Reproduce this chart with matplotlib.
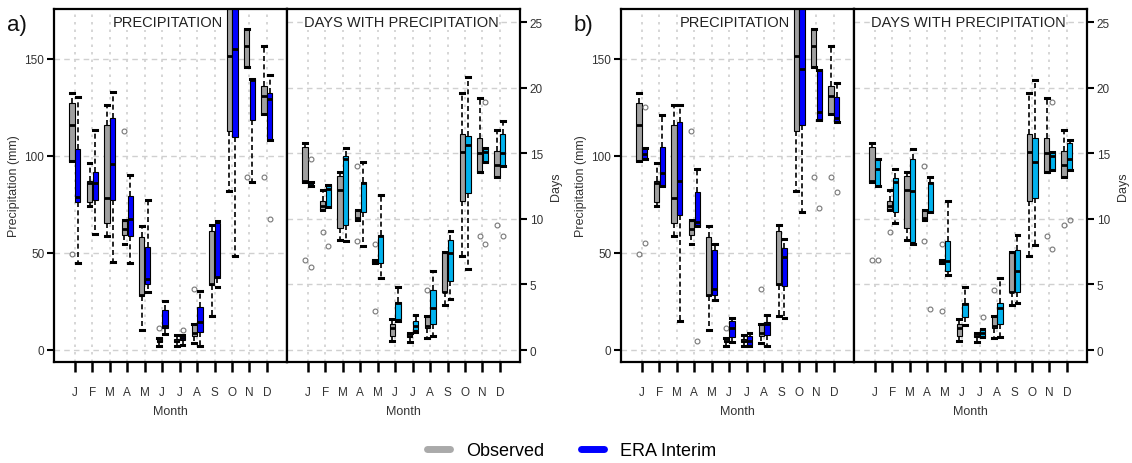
import numpy as np
import matplotlib
matplotlib.use("Agg")
import matplotlib.pyplot as plt
from matplotlib.lines import Line2D

plt.rcParams['font.family'] = ['Liberation Sans', 'DejaVu Sans']

months = ['J', 'F', 'M', 'A', 'M', 'J', 'J', 'A', 'S', 'O', 'N', 'D']

# rows: whisker low, q1, median, q3, whisker high
obs_prec = [[97.4, 97.4, 116, 127, 132.2], [74.2, 76, 86.1, 86.8, 96.2],
            [58.8, 65.3, 78.4, 116, 126], [54.5, 59.1, 62.2, 66.5, 67],
            [10.3, 27.8, 28.3, 57.9, 63.6], [2.1, 3.8, 4.5, 5.9, 6.3],
            [2.1, 3.8, 4.7, 5.5, 7.7], [3.3, 7.2, 8.5, 13.2, 13.5],
            [17.5, 33.4, 34, 61.4, 64.3], [81.7, 112.6, 151.2, 195, 230],
            [145.6, 145.6, 156.4, 165.3, 165.3], [121.5, 121.5, 130.6, 136.1, 156.4]]
obs_prec_out = [[49.3], [], [], [112.6], [], [11], [], [31.3], [], [], [88.9], [88.9]]

obs_days = [[12.8, 12.8, 12.85, 15.5, 15.8], [10.7, 10.7, 11.0, 11.4, 12.2],
            [8.4, 9.3, 12.2, 13.3, 13.6], [9.9, 9.9, 10.1, 10.7, 10.7],
            [6.6, 6.6, 6.8, 6.9, 6.9], [0.7, 1.1, 1.7, 2.0, 2.4],
            [0.6, 1.0, 1.1, 1.2, 1.3], [0.9, 1.65, 1.85, 2.6, 2.6],
            [3.4, 4.4, 4.45, 7.4, 7.5], [7.2, 11.4, 15.1, 16.5, 19.6],
            [13.6, 13.6, 15.0, 16.2, 19.2], [13.2, 13.2, 14.1, 15.2, 16.8]]
obs_days_out = [[6.9], [9.0], [], [14.0, 8.3], [8.1, 3.0], [], [], [4.6], [], [], [8.7], [9.5]]

era_a_prec = [[44.7, 76, 78.9, 103.5, 130], [59.6, 77.2, 86.1, 91.4, 113.3],
              [45, 77.2, 95.9, 119.6, 132.7], [44.7, 58.8, 67.2, 79.1, 90.2],
              [29.9, 33.9, 36.4, 52.8, 77.3], [8.1, 11.2, 12.4, 20.5, 25.3],
              [2.4, 5.2, 6.0, 6.9, 7.5], [1.7, 9.0, 14.4, 21.8, 30.4],
              [32.2, 36.8, 37.3, 65.3, 66.5], [48.5, 109.8, 155, 200, 240],
              [86.3, 118.4, 139, 139.5, 139.5], [108.1, 108.1, 129.2, 132.2, 141.6]]
era_a_prec_out = [[], [], [], [], [], [], [10.3], [], [], [], [], [67.4]]

era_a_days = [[12.5, 12.5, 12.6, 12.8, 12.8], [10.9, 10.9, 12.3, 12.6, 12.6],
              [8.3, 9.5, 14.6, 14.8, 15.4], [7.9, 10.5, 12.7, 12.8, 14.3],
              [5.5, 6.6, 8.7, 8.8, 11.8], [2.2, 2.4, 3.6, 3.7, 4.8],
              [1.4, 1.5, 1.8, 2.2, 2.7], [1.1, 2.0, 3.2, 4.6, 6.0],
              [3.9, 5.3, 7.4, 8.4, 9.1], [6.2, 12.0, 15.6, 16.3, 20.8],
              [14.3, 14.3, 15.1, 15.4, 15.4], [14.0, 14.0, 15.0, 16.5, 17.5]]
era_a_days_out = [[14.6, 6.3], [7.9], [], [], [], [], [], [], [], [], [18.9, 8.1], [8.7]]

era_b_prec = [[98.3, 98.3, 100.9, 103.8, 103.8], [84.2, 84.2, 91.1, 104.7, 121],
              [15, 69.4, 87.1, 117.5, 126], [63.6, 63.6, 65.7, 81.3, 93.2],
              [25.6, 28.2, 31.3, 51.6, 54.5], [4.1, 6.4, 11, 15, 16.3],
              [2.0, 2.4, 4.6, 6.9, 8.4], [2.1, 7.6, 13.5, 14.1, 18.1],
              [16.5, 33, 47.6, 52.3, 57.1], [70.8, 115.8, 144.7, 190, 230],
              [118.4, 118.4, 122.4, 144.2, 144.2], [117.2, 117.2, 119.3, 130.4, 137.3]]
era_b_prec_out = [[125, 55], [], [], [4.6], [], [], [], [], [], [], [72.9], [81.1]]

era_b_days = [[12.5, 12.5, 13.8, 14.6, 14.6], [9.7, 10.5, 12.8, 13.1, 13.8],
              [8.1, 8.2, 12.1, 14.6, 15.3], [10.5, 10.5, 12.7, 12.8, 13.2],
              [5.7, 6.0, 6.8, 8.3, 11.4], [1.9, 2.5, 3.5, 3.6, 4.8],
              [1.0, 1.0, 1.3, 1.5, 1.6], [1.0, 2.0, 3.2, 3.6, 5.5],
              [3.6, 4.4, 6.0, 7.6, 8.8], [8.0, 11.6, 14.3, 16.2, 20.6],
              [13.7, 13.7, 14.8, 15.1, 15.1], [13.7, 13.7, 14.6, 15.8, 16.0]]
era_b_days_out = [[6.9], [], [], [3.1], [], [], [2.5], [], [], [], [18.9, 7.7], [9.9]]

GRAY = '#a0a0a0'
BLUE = '#0000ff'
SKY = '#00b2ee'

pos = np.arange(1, 13)


def boxes(ax, rows, outs, off, color):
    stats = [dict(whislo=r[0], q1=r[1], med=r[2], q3=r[3], whishi=r[4], fliers=o)
             for r, o in zip(rows, outs)]
    ax.bxp(stats, positions=pos + off, widths=0.3, patch_artist=True,
           manage_ticks=False, capwidths=0.22,
           boxprops=dict(facecolor=color, edgecolor='black', linewidth=0.8),
           medianprops=dict(color='black', linewidth=2),
           whiskerprops=dict(color='black', linewidth=1.2, linestyle=(0, (3, 2))),
           capprops=dict(color='black', linewidth=2.2),
           flierprops=dict(marker='o', markersize=3.5, markerfacecolor='none',
                           markeredgecolor='#777777', markeredgewidth=0.8))


def style(ax, title):
    ax.set_xlim(-0.2, 13.15)
    ax.set_xticks(pos)
    ax.set_xticklabels(months)
    ax.tick_params(axis='x', length=7, width=1.8, pad=10, labelsize=8.5,
                   labelcolor='#333333')
    ax.grid(axis='x', color='#d0d0d0', linestyle=(0, (1.5, 3)), linewidth=1.2)
    ax.grid(axis='y', color='#d0d0d0', linestyle=(0, (4, 3)), linewidth=1.0)
    ax.set_axisbelow(True)
    for s in ax.spines.values():
        s.set_linewidth(1.6)
    ax.set_xlabel('Month', fontsize=9, color='#333333')
    ax.xaxis.set_label_coords(0.5, -0.122)
    ax.text(0.49, 0.963, title, transform=ax.transAxes, ha='center', va='center',
            fontsize=10.5, color='#222222',
            bbox=dict(facecolor='white', edgecolor='none', pad=0.5))


fig = plt.figure(figsize=(11.32, 4.64), dpi=100)

W = 233 / 1132
H = 353 / 464
B = 101 / 464
panels = [(54, era_a_prec, era_a_prec_out, era_a_days, era_a_days_out, 'a)'),
          (621, era_b_prec, era_b_prec_out, era_b_days, era_b_days_out, 'b)')]

for x0, ep, epo, ed, edo, tag in panels:
    axp = fig.add_axes([x0 / 1132, B, W, H])
    axd = fig.add_axes([(x0 + 233) / 1132, B, W, H])

    boxes(axp, obs_prec, obs_prec_out, -0.165, GRAY)
    boxes(axp, ep, epo, 0.165, BLUE)
    boxes(axd, obs_days, obs_days_out, -0.165, GRAY)
    boxes(axd, ed, edo, 0.165, SKY)

    style(axp, 'PRECIPITATION')
    style(axd, 'DAYS WITH PRECIPITATION')

    axp.set_ylim(-6.3, 175.6)
    axp.set_yticks([0, 50, 100, 150])
    axp.tick_params(axis='y', length=5, width=1.5, pad=2, labelsize=8.5,
                    labelcolor='#333333')
    axp.set_ylabel('Precipitation (mm)', fontsize=9, color='#333333')
    axp.yaxis.set_label_coords(-0.145, 0.5)

    axd.set_ylim(-0.91, 26.0)
    axd.set_yticks([0, 5, 10, 15, 20, 25])
    axd.yaxis.tick_right()
    axd.yaxis.set_label_position('right')
    axd.tick_params(axis='y', length=5, width=1.5, pad=2, labelsize=8.5,
                    labelcolor='#333333')
    axd.set_ylabel('Days', fontsize=9, color='#333333')
    axd.yaxis.set_label_coords(1.13, 0.5)

    fig.text((x0 - 47) / 1132, 1 - 26 / 464, tag, fontsize=16, ha='left',
             va='center', color='#111111')

handles = [Line2D([], [], color='#aaaaaa', lw=5, solid_capstyle='round'),
           Line2D([], [], color=BLUE, lw=5, solid_capstyle='round')]
fig.legend(handles, ['Observed', 'ERA Interim'], loc='center',
           bbox_to_anchor=(0.505, 0.026), ncol=2, frameon=False, fontsize=13,
           handlelength=1.3, handletextpad=0.9, columnspacing=2.0)

fig.savefig('out.png', dpi=100)
